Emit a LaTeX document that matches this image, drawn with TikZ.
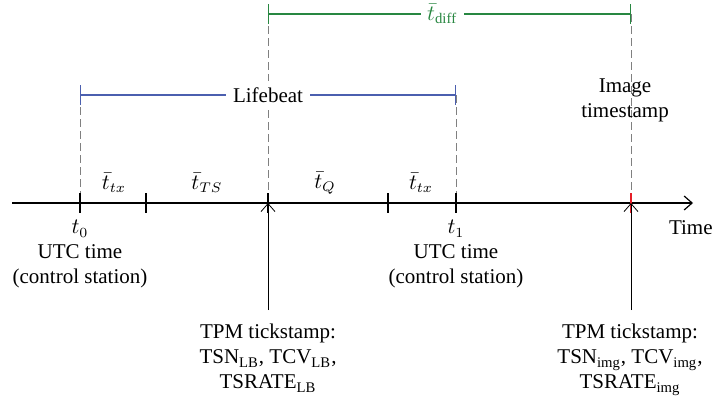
\documentclass[tikz,border=0pt]{standalone}
\usepackage{fontspec}
\setmainfont{Liberation Serif}
\usetikzlibrary{positioning,arrows.meta}
\definecolor{lbblue}{RGB}{75,95,175}
\definecolor{diffgreen}{RGB}{40,135,65}
\definecolor{stampred}{RGB}{230,30,40}
\tikzset{
  guide/.style={gray, dash pattern=on 4pt off 2pt},
  span/.style={{Bar[width=10pt]}-{Bar[width=10pt]}, line width=0.6pt},
  lbl/.style={align=center, inner sep=2pt},
}
\begin{document}
\begin{tikzpicture}[x=0.5pt, y=-0.5pt, font=\fontsize{10.5}{12.5}\selectfont,
    >={Straight Barb[length=4pt,width=7pt]}]
    \useasboundingbox (0,0) rectangle (715,402);
    % points on the time axis
    \coordinate (start) at (12,203);
    \coordinate (end) at (693,203);
    \coordinate (t0) at (80,203);
    \coordinate (ts) at (146,203);
    \coordinate (lb) at (268,203);
    \coordinate (q) at (388,203);
    \coordinate (t1) at (456,203);
    \coordinate (img) at (631,203);
    % ends of the spans
    \coordinate (lbL) at (80,95);
    \coordinate (lbR) at (456,95);
    \coordinate (dL) at (268,14);
    \coordinate (dR) at (631,14);

    \draw[guide] (lbL) -- (t0); \draw[guide] (lbR) -- (t1);
    \draw[guide] (dL) -- (lb); \draw[guide] (dR) -- (img);

    \draw[line width=0.6pt, ->] (start) -- (end);
    \foreach \p in {t0,ts,lb,q,t1}
        \draw[line width=0.6pt] ([yshift=5pt]\p) -- ([yshift=-5pt]\p);
    \draw[stampred, line width=0.6pt] ([yshift=5pt]img) -- ([yshift=-5pt]img);
    \node[anchor=east, inner sep=0pt] (time) at (713,228) {Time};

    \draw[span, lbblue] (lbL) -- node[fill=white, text=black] (life) {Lifebeat} (lbR);
    \draw[span, diffgreen] (dL) -- node[pos=0.48, fill=white] (diff) {$\bar{t}_{\mathrm{diff}}$} (dR);

    \node (tx1) at (114,183) {$\bar{t}_{tx}$};
    \node (tts) at (207,183) {$\bar{t}_{TS}$};
    \node (tq) at (325,183) {$\bar{t}_{Q}$};
    \node (tx2) at (421,183) {$\bar{t}_{tx}$};

    \node[lbl, anchor=north] (t0lbl) at (80,216) {$t_0$\\UTC time\\(control station)};
    \node[lbl, anchor=north] (t1lbl) at (456,216) {$t_1$\\UTC time\\(control station)};
    \node[lbl] (imglbl) at (625,100) {Image\\timestamp};

    \node[lbl, anchor=north] (lbstamp) at (268,320) {TPM tickstamp:\\TSN\textsubscript{LB}, TCV\textsubscript{LB},\\TSRATE\textsubscript{LB}};
    \node[lbl, anchor=north] (imgstamp) at (630,320) {TPM tickstamp:\\TSN\textsubscript{img}, TCV\textsubscript{img},\\TSRATE\textsubscript{img}};
    \draw[->, shorten <=5pt] (lbstamp.north -| lb) -- (lb);
    \draw[->, shorten <=5pt] (imgstamp.north -| img) -- (img);
\end{tikzpicture}
\end{document}
